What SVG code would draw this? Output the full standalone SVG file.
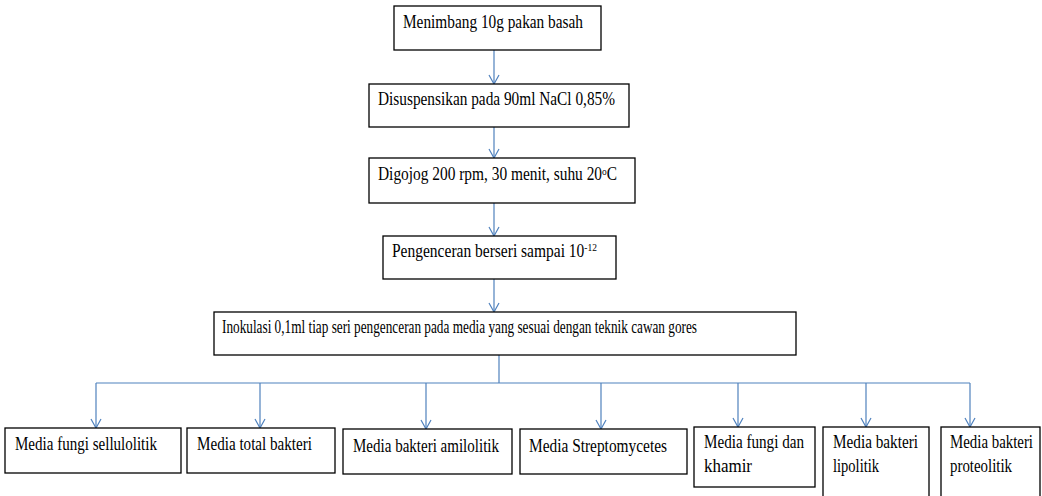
<svg xmlns="http://www.w3.org/2000/svg" width="1042" height="496" viewBox="0 0 1042 496">
<style>
.box{fill:#fff;stroke:#000;stroke-width:1.3}
.t{font-family:"Liberation Serif","DejaVu Serif","Times New Roman",serif;font-size:18px;fill:#000}
.c{fill:none;stroke:#4f81bd;stroke-width:1.2}
.a{marker-end:url(#arr)}
</style>
<defs>
<marker id="arr" viewBox="0 0 9 10" refX="9" refY="5" markerWidth="9" markerHeight="10" markerUnits="userSpaceOnUse" orient="auto" overflow="visible">
<path d="M0,0 L9,5 L0,10" fill="none" stroke="#4f81bd" stroke-width="1.2"/>
</marker>
</defs>
<rect width="1042" height="496" fill="#fff"/>
<g id="connectors">
<line class="c a" x1="494" y1="50" x2="494" y2="84"/>
<line class="c a" x1="494" y1="127" x2="494" y2="158"/>
<line class="c a" x1="494" y1="203" x2="494" y2="236"/>
<line class="c a" x1="494" y1="279" x2="494" y2="312"/>
<line class="c" x1="499" y1="355" x2="499" y2="383"/>
<line class="c" x1="96" y1="383" x2="970" y2="383"/>
<line class="c a" x1="96" y1="383" x2="96" y2="428"/>
<line class="c a" x1="260" y1="383" x2="260" y2="428"/>
<line class="c a" x1="426" y1="383" x2="426" y2="429"/>
<line class="c a" x1="601" y1="383" x2="601" y2="429"/>
<line class="c a" x1="738" y1="383" x2="738" y2="427"/>
<line class="c a" x1="866" y1="383" x2="866" y2="427"/>
<line class="c a" x1="970" y1="383" x2="970" y2="427"/>
</g>
<g id="n1"><rect class="box" x="394" y="6" width="207" height="44"/><text class="t" x="403" y="28" textLength="180" lengthAdjust="spacingAndGlyphs">Menimbang 10g pakan basah</text></g>
<g id="n2"><rect class="box" x="369" y="84" width="260" height="43"/><text class="t" x="378" y="105" textLength="237" lengthAdjust="spacingAndGlyphs">Disuspensikan pada 90ml NaCl 0,85%</text></g>
<g id="n3"><rect class="box" x="369" y="158" width="266" height="45"/><text class="t" x="378" y="180" textLength="239" lengthAdjust="spacingAndGlyphs">Digojog 200 rpm, 30 menit, suhu 20<tspan font-size="11" dy="-5">o</tspan><tspan dy="5">C</tspan></text></g>
<g id="n4"><rect class="box" x="383" y="236" width="233" height="43"/><text class="t" x="392" y="257" textLength="205" lengthAdjust="spacingAndGlyphs">Pengenceran berseri sampai 10<tspan font-size="11" dy="-6">-12</tspan></text></g>
<g id="n5"><rect class="box" x="214" y="312" width="582" height="43"/><text class="t" x="222" y="333" textLength="475" lengthAdjust="spacingAndGlyphs">Inokulasi 0,1ml tiap seri pengenceran pada media yang sesuai dengan teknik cawan gores</text></g>
<g id="m1"><rect class="box" x="5" y="428" width="176" height="45"/><text class="t" x="15" y="450" textLength="142" lengthAdjust="spacingAndGlyphs">Media fungi sellulolitik</text></g>
<g id="m2"><rect class="box" x="187" y="428" width="148" height="45"/><text class="t" x="197" y="450" textLength="115" lengthAdjust="spacingAndGlyphs">Media total bakteri</text></g>
<g id="m3"><rect class="box" x="343" y="429" width="169" height="45"/><text class="t" x="353" y="452" textLength="146" lengthAdjust="spacingAndGlyphs">Media bakteri amilolitik</text></g>
<g id="m4"><rect class="box" x="520" y="429" width="167" height="45"/><text class="t" x="529" y="452" textLength="138" lengthAdjust="spacingAndGlyphs">Media Streptomycetes</text></g>
<g id="m5"><rect class="box" x="694" y="427" width="121" height="60"/><text class="t" x="704" y="448" textLength="100" lengthAdjust="spacingAndGlyphs">Media fungi dan</text><text class="t" x="704" y="472" textLength="48" lengthAdjust="spacingAndGlyphs">khamir</text></g>
<g id="m6"><rect class="box" x="823" y="427" width="106" height="75"/><text class="t" x="833" y="448" textLength="85" lengthAdjust="spacingAndGlyphs">Media bakteri</text><text class="t" x="833" y="472" textLength="46" lengthAdjust="spacingAndGlyphs">lipolitik</text></g>
<g id="m7"><rect class="box" x="941" y="427" width="99" height="75"/><text class="t" x="950" y="448" textLength="83" lengthAdjust="spacingAndGlyphs">Media bakteri</text><text class="t" x="950" y="472" textLength="62" lengthAdjust="spacingAndGlyphs">proteolitik</text></g>
</svg>
